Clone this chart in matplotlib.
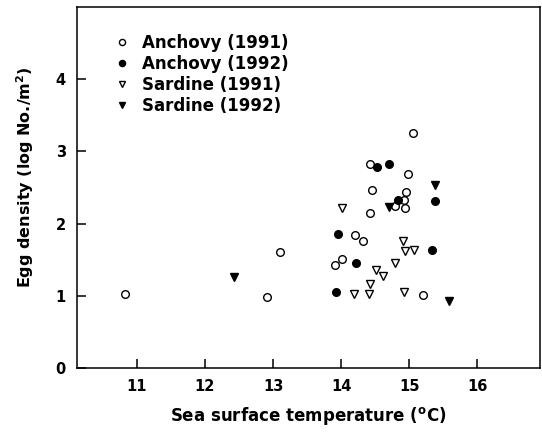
import matplotlib
matplotlib.use("Agg")
import matplotlib.pyplot as plt

# Anchovy 1991 (open circles)
anch91_sst = [10.83, 12.91, 13.10, 15.05, 14.42, 14.99, 14.46, 14.95, 14.92, 14.79,
              14.94, 14.42, 14.20, 14.32, 14.01, 13.91, 15.21]
anch91_egg = [1.03, 0.99, 1.60, 3.25, 2.82, 2.69, 2.46, 2.44, 2.33, 2.25,
              2.22, 2.15, 1.84, 1.76, 1.51, 1.42, 1.01]

# Anchovy 1992 (filled circles)
anch92_sst = [14.53, 14.70, 14.83, 15.38, 13.95, 14.22, 15.34, 13.93]
anch92_egg = [2.79, 2.83, 2.32, 2.31, 1.85, 1.46, 1.64, 1.05]

# Sardine 1991 (open triangles)
sard91_sst = [14.01, 14.91, 14.94, 15.07, 14.79, 14.52, 14.62, 14.42, 14.19, 14.41, 14.92]
sard91_egg = [2.22, 1.76, 1.62, 1.63, 1.45, 1.36, 1.28, 1.16, 1.03, 1.03, 1.05]

# Sardine 1992 (filled triangles)
sard92_sst = [15.38, 14.71, 15.58, 12.42]
sard92_egg = [2.53, 2.23, 0.93, 1.26]

plt.rcParams['font.family'] = ['DejaVu Sans']
plt.rcParams['font.weight'] = 'bold'

fig = plt.figure(figsize=(5.42, 4.36), dpi=100)
ax = fig.add_axes([0.142, 0.156, 0.854, 0.828])

ms = 5.5
ax.plot(anch91_sst, anch91_egg, 'o', mfc='white', mec='black', mew=1.0, ms=ms,
        label='Anchovy (1991)')
ax.plot(anch92_sst, anch92_egg, 'o', mfc='black', mec='black', ms=ms,
        label='Anchovy (1992)')
ax.plot(sard91_sst, sard91_egg, 'v', mfc='white', mec='black', mew=1.0, ms=ms,
        label='Sardine (1991)')
ax.plot(sard92_sst, sard92_egg, 'v', mfc='black', mec='black', ms=ms,
        label='Sardine (1992)')

ax.set_xlim(10.12, 16.92)
ax.set_ylim(0, 5)
ax.set_xticks([11, 12, 13, 14, 15, 16])
ax.set_yticks([0, 1, 2, 3, 4])
ax.tick_params(direction='in', length=6.5, width=1.1, labelsize=10.5, pad=8)
for s in ax.spines.values():
    s.set_linewidth(1.1)

ax.set_xlabel('Sea surface temperature ($^{\\mathbf{o}}$C)', fontsize=12,
              fontweight='bold', labelpad=8)
ax.set_ylabel('Egg density (log No./m$^{\\mathbf{2}}$)', fontsize=11.5,
              fontweight='bold')
ax.yaxis.set_label_coords(-0.088, 0.53)

ax.legend(loc='upper left', frameon=False, fontsize=12, markerscale=0.8,
          handlelength=1.0, handletextpad=0.69, labelspacing=0.17,
          borderaxespad=0, borderpad=0, bbox_to_anchor=(0.079, 0.925))

fig.savefig('out.png', dpi=100)
